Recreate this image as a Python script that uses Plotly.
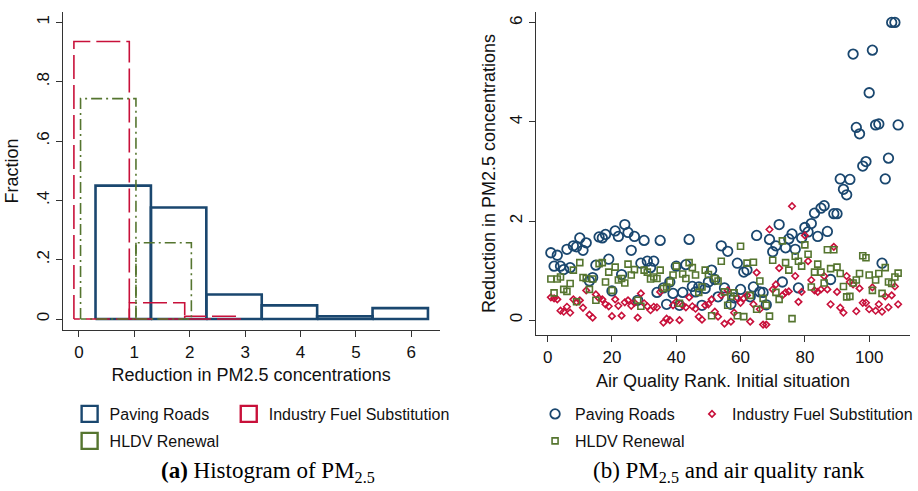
import numpy as np
import plotly.graph_objects as go

W, H = 918, 491

# ---------------- data ----------------
rank = list(range(1, 110))

paving_roads = [
    1.36, 1.09, 1.31, 1.09, 1.02, 1.43, 1.06, 1.50, 1.48, 1.66,
    1.41, 1.56, 0.79, 0.86, 1.11, 1.68, 1.66, 1.73, 1.23, 0.59,
    1.80, 1.69, 0.92, 1.93, 1.77, 1.41, 1.69, 0.40, 1.15, 1.61,
    1.19, 1.06, 1.19, 0.56, 1.61, 0.65, 0.32, 0.77, 0.54, 1.09,
    0.30, 0.56, 1.12, 1.63, 0.68, 0.57, 0.67, 0.30, 0.64, 0.77,
    1.01, 0.82, 0.47, 1.50, 0.65, 1.39, 0.32, 0.45, 1.15, 0.62,
    0.97, 1.01, 0.47, 0.67, 1.71, 0.57, 0.56, 0.31, 1.63, 1.38,
    1.50, 1.93, 0.77, 1.46, 1.64, 1.74, 1.43, 0.65, 1.66, 1.87,
    1.78, 1.95, 2.16, 1.69, 2.26, 2.31, 1.79, 0.82, 2.15, 2.15,
    2.85, 2.64, 2.53, 2.84, 5.37, 3.89, 3.76, 3.11, 3.20, 4.59,
    5.45, 3.94, 3.96, 1.15, 2.85, 3.27, 6.01, 6.01, 3.94,
]

industry_fuel = [
    0.46, 0.44, 0.42, 0.19, 0.17, 0.27, 0.15, 0.42, 0.37, 0.40,
    0.25, 0.60, 0.11, 0.05, 0.52, 0.44, 0.42, 0.32, 0.28, 0.08,
    0.42, 0.29, 0.09, 0.36, 0.40, 0.29, 0.35, 0.05, 0.54, 0.34,
    0.28, 0.20, 0.27, 0.26, 0.57, -0.05, 0.03, 0.00, 0.30, 0.37,
    0.00, 0.30, 0.26, 0.46, 0.28, 0.23, 0.07, 0.01, 0.30, 0.32,
    0.42, 0.17, 0.07, 0.50, -0.07, 0.60, -0.03, 0.15, 0.45, 0.35,
    0.44, 0.50, -0.03, 0.32, 0.96, 0.22, -0.09, -0.09, 1.83, 0.62,
    0.72, 1.05, 0.50, 0.56, 0.58, 2.30, 0.89, 0.37, 0.57, 1.71,
    1.19, 0.81, 0.60, 0.57, 0.62, 0.89, 0.62, 0.32, 1.48, 0.57,
    0.25, 0.15, 0.89, 0.77, 0.72, 0.18, 0.64, 0.35, 0.35, 0.22,
    0.66, 0.19, 0.32, 0.17, 0.48, 0.26, 0.50, 0.68, 0.32,
]

hldv_renewal = [
    0.83, 0.55, 0.83, 0.87, 0.62, 0.58, 0.74, 1.01, 0.37, 1.16,
    0.86, 0.84, 0.62, 0.83, 0.40, 1.14, 1.16, 0.77, 0.97, 0.60,
    1.07, 0.81, 0.84, 0.75, 1.13, 0.91, 1.02, 0.40, 0.28, 1.01,
    0.97, 0.83, 0.87, 0.84, 1.01, 0.64, 0.67, 0.77, 0.91, 1.09,
    0.34, 0.93, 0.84, 1.16, 1.06, 0.91, 0.56, 0.67, 1.01, 0.92,
    0.09, 0.84, 0.79, 1.19, 0.57, 0.30, 0.48, 0.55, 0.09, 1.49,
    0.07, 1.15, 0.50, 1.17, 0.22, 0.79, 0.44, 0.30, 0.08, 1.21,
    0.56, 0.42, 1.60, 1.16, 1.01, 0.03, 1.29, 1.19, 1.09, 1.52,
    1.33, 0.67, 0.97, 1.13, 0.97, 0.75, 1.42, 1.04, 1.42, 1.07,
    0.94, 0.68, 0.47, 0.48, 0.75, 0.81, 0.94, 1.30, 1.26, 0.91,
    0.60, 0.81, 0.94, 0.54, 1.06, 0.77, 0.74, 0.87, 0.95,
]

series_names = ["Paving Roads", "Industry Fuel Substitution", "HLDV Renewal"]
bin_width = 1.0

hist_x_ticks = [0, 1, 2, 3, 4, 5, 6]
hist_y_ticks = [0, 0.2, 0.4, 0.6, 0.8, 1.0]
hist_y_ticktext = ["0", ".2", ".4", ".6", ".8", "1"]
scat_x_ticks = [0, 20, 40, 60, 80, 100]
scat_y_ticks = [0, 2, 4, 6]

# ---------------- styles ----------------
NAVY = "#1a476f"
RED = "#c8103a"
GREEN = "#55752f"
AXIS = "#333333"
SANS = "Liberation Sans, Arial, sans-serif"
SERIF = "Liberation Serif, Times New Roman, serif"


def hist_outline(values, start, width):
    """Stata-like histogram (fraction), bins starting at `start`."""
    v = np.asarray(values, dtype=float)
    nb = int(np.ceil((v.max() - start) / width + 1e-9))
    edges = start + width * np.arange(nb + 1)
    counts, _ = np.histogram(v, bins=edges)
    frac = counts / len(v)
    xs, ys = [], []
    for i, f in enumerate(frac):
        if f <= 0:
            continue
        x0, x1 = edges[i], edges[i + 1]
        xs += [x0, x0, x1, x1, x0, None]
        ys += [0, f, f, 0, 0, None]
    return xs, ys


fig = go.Figure()

hist_specs = [
    (paving_roads, NAVY, "solid", 2.6),
    (industry_fuel, RED, "24px,6px", 1.6),
    (hldv_renewal, GREEN, "11px,4px,2px,4px", 1.6),
]
for (vals, col, dash, lw) in hist_specs:
    xs, ys = hist_outline(vals, min(vals), bin_width)
    fig.add_trace(go.Scatter(
        x=xs, y=ys, mode="lines", xaxis="x", yaxis="y",
        line=dict(color=col, width=lw, dash=dash),
        showlegend=False, hoverinfo="skip"))

# legend keys for the histogram panel (one legend box per entry)
hist_legends = ["legend", "legend2", "legend3"]
for name, lg, (vals, col, dash, lw) in zip(series_names, hist_legends, hist_specs):
    fig.add_trace(go.Scatter(
        x=[None], y=[None], mode="markers", xaxis="x", yaxis="y",
        name=name, legend=lg,
        marker=dict(symbol="square-open", size=16,
                    color=col, line=dict(color=col, width=2.4))))

# scatter panel
scat_specs = [
    (paving_roads, NAVY, "circle-open", 9.5, 1.8, "legend4"),
    (industry_fuel, RED, "diamond-open", 5, 1.6, "legend5"),
    (hldv_renewal, GREEN, "square-open", 6, 1.6, "legend6"),
]
for name, (vals, col, sym, sz, lw, lg) in zip(series_names, scat_specs):
    fig.add_trace(go.Scatter(
        x=rank, y=vals, mode="markers", xaxis="x2", yaxis="y2",
        name=name, legend=lg,
        marker=dict(symbol=sym, size=sz, color=col,
                    line=dict(color=col, width=lw))))

axis_common = dict(
    showline=True, linecolor=AXIS, linewidth=1.3,
    ticks="outside", ticklen=6, tickwidth=1.3, tickcolor=AXIS,
    showgrid=False, zeroline=False, automargin=False,
    tickfont=dict(family=SANS, size=17, color="#111111"),
)
title_font = dict(family=SANS, size=18, color="#111111")

fig.update_layout(
    width=W, height=H,
    margin=dict(l=0, r=0, t=0, b=0),
    paper_bgcolor="white", plot_bgcolor="white",
    xaxis=dict(axis_common, domain=[63 / W, 442 / W], anchor="y",
               range=[-0.293, 6.51], tickvals=hist_x_ticks,
               title=dict(text="Reduction in PM2.5 concentrations",
                          font=title_font, standoff=7)),
    yaxis=dict(axis_common, domain=[1 - 330 / H, 1 - 12 / H], anchor="x",
               range=[-0.037, 1.035], tickvals=hist_y_ticks,
               ticktext=hist_y_ticktext, tickangle=-90,
               title=dict(text="Fraction", font=title_font, standoff=10)),
    xaxis2=dict(axis_common, domain=[539 / W, 915 / W], anchor="y2",
                range=[-3.6, 112.7], tickvals=scat_x_ticks,
                title=dict(text="Air Quality Rank. Initial situation",
                           font=title_font, standoff=8)),
    yaxis2=dict(axis_common, domain=[1 - 335 / H, 1 - 12 / H], anchor="x2",
                range=[-0.30, 6.22], tickvals=scat_y_ticks, tickangle=-90,
                title=dict(text="Reduction in PM2.5 concentrations",
                           font=title_font, standoff=6)),
    showlegend=True,
)

leg_common = dict(orientation="h", xanchor="left", yanchor="middle",
                  bgcolor="rgba(0,0,0,0)",
                  font=dict(family=SANS, size=16, color="#111111"),
                  itemclick=False, itemdoubleclick=False)
legend_pos = {
    "legend": (70, 414), "legend2": (230, 414), "legend3": (70, 441),
    "legend4": (538, 414), "legend5": (696, 414), "legend6": (538, 441),
}
fig.update_layout(**{k: dict(leg_common, x=px / W, y=1 - py / H)
                     for k, (px, py) in legend_pos.items()})

fig.add_annotation(text="<b>(a)</b> Histogram of PM<sub>2.5</sub>",
                   xref="paper", yref="paper", x=269 / W, y=1 - 472 / H,
                   xanchor="center", yanchor="middle", showarrow=False,
                   font=dict(family=SERIF, size=23, color="black"))
fig.add_annotation(text="(b) PM<sub>2.5</sub> and air quality rank",
                   xref="paper", yref="paper", x=733 / W, y=1 - 472 / H,
                   xanchor="center", yanchor="middle", showarrow=False,
                   font=dict(family=SERIF, size=23, color="black"))

fig.write_html("out.html",
               config={"displayModeBar": False},
               post_script="document.body.style.margin='0px';"
                           "document.body.style.overflow='hidden';")
